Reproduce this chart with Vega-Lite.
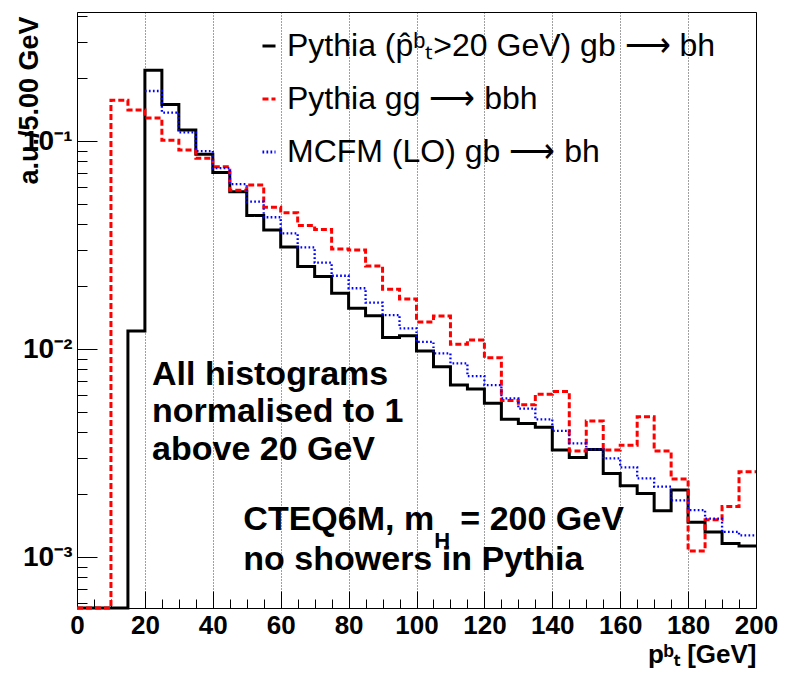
{
"$schema":"https://vega.github.io/schema/vega-lite/v6.json",
"width":679,"height":596,
"autosize":{"type":"none"},
"padding":{"left":77,"top":12,"right":31,"bottom":68},
"background":"#ffffff",
"config":{"font":"Liberation Sans","view":{"stroke":"#000","strokeWidth":1},"axis":{"labelColor":"#000","titleColor":"#000","tickColor":"#000","tickWidth":1}},
"datasets":{"hist":[
{"sample":"pythia_gb","pt":0,"v":0},{"sample":"pythia_gb","pt":5,"v":0},{"sample":"pythia_gb","pt":10,"v":0},{"sample":"pythia_gb","pt":15,"v":0.0122},
{"sample":"pythia_gb","pt":20,"v":0.219},{"sample":"pythia_gb","pt":25,"v":0.150},{"sample":"pythia_gb","pt":30,"v":0.113},{"sample":"pythia_gb","pt":35,"v":0.0863},
{"sample":"pythia_gb","pt":40,"v":0.0705},{"sample":"pythia_gb","pt":45,"v":0.057},{"sample":"pythia_gb","pt":50,"v":0.0438},{"sample":"pythia_gb","pt":55,"v":0.0373},
{"sample":"pythia_gb","pt":60,"v":0.0309},{"sample":"pythia_gb","pt":65,"v":0.0249},{"sample":"pythia_gb","pt":70,"v":0.0223},{"sample":"pythia_gb","pt":75,"v":0.01853},
{"sample":"pythia_gb","pt":80,"v":0.0157},{"sample":"pythia_gb","pt":85,"v":0.01445},{"sample":"pythia_gb","pt":90,"v":0.01137},{"sample":"pythia_gb","pt":95,"v":0.01158},
{"sample":"pythia_gb","pt":100,"v":0.00977},{"sample":"pythia_gb","pt":105,"v":0.00822},{"sample":"pythia_gb","pt":110,"v":0.00671},{"sample":"pythia_gb","pt":115,"v":0.00642},
{"sample":"pythia_gb","pt":120,"v":0.00548},{"sample":"pythia_gb","pt":125,"v":0.00459},{"sample":"pythia_gb","pt":130,"v":0.00439},{"sample":"pythia_gb","pt":135,"v":0.0042},
{"sample":"pythia_gb","pt":140,"v":0.00327},{"sample":"pythia_gb","pt":145,"v":0.00301},{"sample":"pythia_gb","pt":150,"v":0.00329},{"sample":"pythia_gb","pt":155,"v":0.00252},
{"sample":"pythia_gb","pt":160,"v":0.0022},{"sample":"pythia_gb","pt":165,"v":0.00202},{"sample":"pythia_gb","pt":170,"v":0.00167},{"sample":"pythia_gb","pt":175,"v":0.0021},
{"sample":"pythia_gb","pt":180,"v":0.00147},{"sample":"pythia_gb","pt":185,"v":0.00132},{"sample":"pythia_gb","pt":190,"v":0.00116},{"sample":"pythia_gb","pt":195,"v":0.00113},
{"sample":"pythia_gb","pt":200,"v":0.00113},
{"sample":"pythia_gg","pt":0,"v":0},{"sample":"pythia_gg","pt":5,"v":0},{"sample":"pythia_gg","pt":10,"v":0.157},{"sample":"pythia_gg","pt":15,"v":0.141},
{"sample":"pythia_gg","pt":20,"v":0.129},{"sample":"pythia_gg","pt":25,"v":0.101},{"sample":"pythia_gg","pt":30,"v":0.0905},{"sample":"pythia_gg","pt":35,"v":0.0826},
{"sample":"pythia_gg","pt":40,"v":0.0752},{"sample":"pythia_gg","pt":45,"v":0.058},{"sample":"pythia_gg","pt":50,"v":0.0614},{"sample":"pythia_gg","pt":55,"v":0.048},
{"sample":"pythia_gg","pt":60,"v":0.0452},{"sample":"pythia_gg","pt":65,"v":0.0393},{"sample":"pythia_gg","pt":70,"v":0.0376},{"sample":"pythia_gg","pt":75,"v":0.0303},
{"sample":"pythia_gg","pt":80,"v":0.0299},{"sample":"pythia_gg","pt":85,"v":0.0251},{"sample":"pythia_gg","pt":90,"v":0.0194},{"sample":"pythia_gg","pt":95,"v":0.0174},
{"sample":"pythia_gg","pt":100,"v":0.0135},{"sample":"pythia_gg","pt":105,"v":0.0144},{"sample":"pythia_gg","pt":110,"v":0.01054},{"sample":"pythia_gg","pt":115,"v":0.01105},
{"sample":"pythia_gg","pt":120,"v":0.00908},{"sample":"pythia_gg","pt":125,"v":0.00565},{"sample":"pythia_gg","pt":130,"v":0.00539},{"sample":"pythia_gg","pt":135,"v":0.00606},
{"sample":"pythia_gg","pt":140,"v":0.00624},{"sample":"pythia_gg","pt":145,"v":0.00323},{"sample":"pythia_gg","pt":150,"v":0.00451},{"sample":"pythia_gg","pt":155,"v":0.00327},
{"sample":"pythia_gg","pt":160,"v":0.00345},{"sample":"pythia_gg","pt":165,"v":0.00473},{"sample":"pythia_gg","pt":170,"v":0.00323},{"sample":"pythia_gg","pt":175,"v":0.00237},
{"sample":"pythia_gg","pt":180,"v":0.00107},{"sample":"pythia_gg","pt":185,"v":0.00151},{"sample":"pythia_gg","pt":190,"v":0.00175},{"sample":"pythia_gg","pt":195,"v":0.00257},
{"sample":"pythia_gg","pt":200,"v":0.00257},
{"sample":"mcfm","pt":20,"v":0.174},{"sample":"mcfm","pt":25,"v":0.137},{"sample":"mcfm","pt":30,"v":0.110},{"sample":"mcfm","pt":35,"v":0.0895},
{"sample":"mcfm","pt":40,"v":0.074},{"sample":"mcfm","pt":45,"v":0.062},{"sample":"mcfm","pt":50,"v":0.0511},{"sample":"mcfm","pt":55,"v":0.043},
{"sample":"mcfm","pt":60,"v":0.036},{"sample":"mcfm","pt":65,"v":0.0308},{"sample":"mcfm","pt":70,"v":0.026},{"sample":"mcfm","pt":75,"v":0.0225},
{"sample":"mcfm","pt":80,"v":0.0196},{"sample":"mcfm","pt":85,"v":0.0167},{"sample":"mcfm","pt":90,"v":0.01456},{"sample":"mcfm","pt":95,"v":0.01257},
{"sample":"mcfm","pt":100,"v":0.01083},{"sample":"mcfm","pt":105,"v":0.00953},{"sample":"mcfm","pt":110,"v":0.00853},{"sample":"mcfm","pt":115,"v":0.00741},
{"sample":"mcfm","pt":120,"v":0.00671},{"sample":"mcfm","pt":125,"v":0.00579},{"sample":"mcfm","pt":130,"v":0.00517},{"sample":"mcfm","pt":135,"v":0.00459},
{"sample":"mcfm","pt":140,"v":0.00404},{"sample":"mcfm","pt":145,"v":0.00352},{"sample":"mcfm","pt":150,"v":0.00329},{"sample":"mcfm","pt":155,"v":0.00298},
{"sample":"mcfm","pt":160,"v":0.0027},{"sample":"mcfm","pt":165,"v":0.00239},{"sample":"mcfm","pt":170,"v":0.00218},{"sample":"mcfm","pt":175,"v":0.00187},
{"sample":"mcfm","pt":180,"v":0.00168},{"sample":"mcfm","pt":185,"v":0.00153},{"sample":"mcfm","pt":190,"v":0.00132},{"sample":"mcfm","pt":195,"v":0.00127},
{"sample":"mcfm","pt":200,"v":0.00127}
]},
"data":{"name":"hist"},
"layer":[
{"mark":{"type":"point","opacity":0},
 "encoding":{
  "x":{"field":"pt","type":"quantitative","scale":{"domain":[0,200],"nice":false,"zero":false},
       "axis":{"orient":"bottom","values":[5,10,15,25,30,35,45,50,55,65,70,75,85,90,95,105,110,115,125,130,135,145,150,155,165,170,175,185,190,195],"tickSize":-9,"labels":false,"domain":false,"grid":false,"title":null}},
  "y":{"field":"v","type":"quantitative","scale":{"type":"log","domain":[0.0005686,0.4172],"nice":false,"clamp":true},
       "axis":{"orient":"left","values":[0.0006,0.0007,0.0008,0.0009,0.002,0.003,0.004,0.005,0.006,0.007,0.008,0.009,0.02,0.03,0.04,0.05,0.06,0.07,0.08,0.09,0.2,0.3,0.4],"tickSize":-10,"labels":false,"domain":false,"grid":false,"title":null}}}},
{"transform":[{"filter":"datum.sample == 'pythia_gb'"}],
 "mark":{"type":"line","interpolate":"step-after","strokeWidth":3,"invalid":"show"},
 "encoding":{
  "x":{"field":"pt","type":"quantitative","scale":{"domain":[0,200],"nice":false,"zero":false},
       "axis":{"orient":"bottom","values":[0,20,40,60,80,100,120,140,160,180,200],"tickSize":-17,"domain":false,"grid":true,"gridDash":[1,2],"gridColor":"#000","gridOpacity":0.75,"gridWidth":1,
               "labelFont":"Liberation Sans","labelFontWeight":"bold","labelFontSize":26,"labelPadding":21,"labelFlush":false,"labelOverlap":false,
               "title":"pᵇₜ [GeV]","titleFont":"Liberation Sans","titleFontSize":26,"titleFontWeight":"bold","titleAnchor":"end","titleAlign":"right","titleBaseline":"alphabetic","titleX":679,"titleY":54}},
  "y":{"field":"v","type":"quantitative","scale":{"type":"log","domain":[0.0005686,0.4172],"nice":false,"clamp":true},
       "axis":{"orient":"left","values":[0.001,0.01,0.1],"tickSize":-20,"domain":false,"grid":false,
               "labelExpr":"datum.value > 0.05 ? '10⁻¹' : datum.value > 0.005 ? '10⁻²' : '10⁻³'",
               "labelFont":"Liberation Sans","labelFontWeight":"bold","labelFontSize":28,"labelPadding":25,
               "title":"a.u./5.00 GeV","titleFont":"Liberation Sans","titleFontSize":27,"titleFontWeight":"bold","titleAngle":270,"titleAnchor":"end","titleAlign":"right","titleBaseline":"alphabetic","titleX":-40,"titleY":4}},
  "color":{"field":"sample","type":"nominal","scale":{"domain":["pythia_gb","pythia_gg","mcfm"],"range":["#000000","#ff0000","#0000ff"]},
           "legend":{"orient":"none","legendX":176,"legendY":18,"title":null,"padding":0,"labelFont":"Liberation Sans","labelFontSize":32,"labelColor":"#000","labelLimit":700,"labelOffset":2,"symbolType":"stroke","symbolSize":170,"symbolStrokeWidth":3,"rowPadding":21,
                     "labelExpr":"datum.value == 'pythia_gb' ? 'Pythia (p̂ᵇₜ>20 GeV) gb ⟶ bh' : datum.value == 'pythia_gg' ? 'Pythia gg ⟶ bbh' : 'MCFM (LO) gb ⟶ bh'"}},
  "strokeDash":{"field":"sample","type":"nominal","scale":{"domain":["pythia_gb","pythia_gg","mcfm"],"range":[[1,0],[6,3],[1.7,2.3]]},
           "legend":{"orient":"none","legendX":176,"legendY":18,"title":null,"padding":0,"labelFont":"Liberation Sans","labelFontSize":32,"labelColor":"#000","labelLimit":700,"labelOffset":2,"symbolType":"stroke","symbolSize":170,"symbolStrokeWidth":3,"rowPadding":21,
                     "labelExpr":"datum.value == 'pythia_gb' ? 'Pythia (p̂ᵇₜ>20 GeV) gb ⟶ bh' : datum.value == 'pythia_gg' ? 'Pythia gg ⟶ bbh' : 'MCFM (LO) gb ⟶ bh'"}}}},
{"transform":[{"filter":"datum.sample == 'pythia_gg'"}],
 "mark":{"type":"line","interpolate":"step-after","strokeWidth":3,"invalid":"show"},
 "encoding":{
  "x":{"field":"pt","type":"quantitative","scale":{"domain":[0,200],"nice":false,"zero":false},"axis":null},
  "y":{"field":"v","type":"quantitative","scale":{"type":"log","domain":[0.0005686,0.4172],"nice":false,"clamp":true},"axis":null},
  "color":{"field":"sample","type":"nominal","scale":{"domain":["pythia_gb","pythia_gg","mcfm"],"range":["#000000","#ff0000","#0000ff"]}},
  "strokeDash":{"field":"sample","type":"nominal","scale":{"domain":["pythia_gb","pythia_gg","mcfm"],"range":[[1,0],[6,3],[1.7,2.3]]}}}},
{"transform":[{"filter":"datum.sample == 'mcfm'"}],
 "mark":{"type":"line","interpolate":"step-after","strokeWidth":2.3,"invalid":"show"},
 "encoding":{
  "x":{"field":"pt","type":"quantitative","scale":{"domain":[0,200],"nice":false,"zero":false},"axis":null},
  "y":{"field":"v","type":"quantitative","scale":{"type":"log","domain":[0.0005686,0.4172],"nice":false,"clamp":true},"axis":null},
  "color":{"field":"sample","type":"nominal","scale":{"domain":["pythia_gb","pythia_gg","mcfm"],"range":["#000000","#ff0000","#0000ff"]}},
  "strokeDash":{"field":"sample","type":"nominal","scale":{"domain":["pythia_gb","pythia_gg","mcfm"],"range":[[1,0],[6,3],[1.7,2.3]]}}}},
{"data":{"values":[{}]},
 "mark":{"type":"text","align":"left","baseline":"alphabetic","font":"Liberation Sans","fontSize":34,"fontWeight":"bold","lineHeight":37.5,"color":"#000"},
 "encoding":{
  "x":{"datum":22.1,"type":"quantitative","scale":{"domain":[0,200],"nice":false,"zero":false},"axis":null},
  "y":{"datum":0.006751,"type":"quantitative","scale":{"type":"log","domain":[0.0005686,0.4172],"nice":false,"clamp":true},"axis":null},
  "text":{"value":["All histograms","normalised to 1","above 20 GeV"]}}},
{"data":{"values":[{}]},
 "encoding":{
  "x":{"datum":49,"type":"quantitative","scale":{"domain":[0,200],"nice":false,"zero":false},"axis":null},
  "y":{"datum":0.0013486,"type":"quantitative","scale":{"type":"log","domain":[0.0005686,0.4172],"nice":false,"clamp":true},"axis":null}},
 "layer":[
  {"mark":{"type":"text","align":"left","baseline":"alphabetic","font":"Liberation Sans","fontSize":34,"fontWeight":"bold","color":"#000"},"encoding":{"text":{"value":"CTEQ6M, m"}}},
  {"mark":{"type":"text","align":"left","baseline":"alphabetic","font":"Liberation Sans","fontSize":22,"fontWeight":"bold","color":"#000","dx":191,"dy":18},"encoding":{"text":{"value":"H"}}},
  {"mark":{"type":"text","align":"left","baseline":"alphabetic","font":"Liberation Sans","fontSize":34,"fontWeight":"bold","color":"#000","dx":217},"encoding":{"text":{"value":"= 200 GeV"}}}
 ]},
{"data":{"values":[{}]},
 "mark":{"type":"text","align":"left","baseline":"alphabetic","font":"Liberation Sans","fontSize":34,"fontWeight":"bold","color":"#000"},
 "encoding":{
  "x":{"datum":49,"type":"quantitative","scale":{"domain":[0,200],"nice":false,"zero":false},"axis":null},
  "y":{"datum":0.000866,"type":"quantitative","scale":{"type":"log","domain":[0.0005686,0.4172],"nice":false,"clamp":true},"axis":null},
  "text":{"value":"no showers in Pythia"}}}
],
"resolve":{"axis":{"x":"independent","y":"independent"}}
}
